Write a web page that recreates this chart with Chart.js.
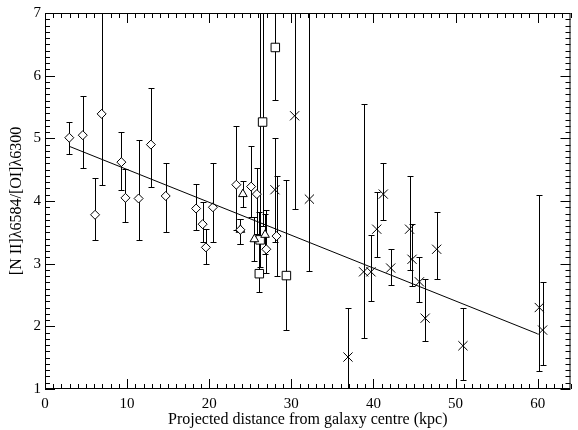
<!DOCTYPE html>
<html>
<head>
<meta charset="utf-8">
<script src="https://cdn.jsdelivr.net/npm/chart.js@4"></script>
<style>
  html, body { margin: 0; padding: 0; background: #fff; }
</style>
</head>
<body>
<canvas id="myChart" width="578" height="430"></canvas>
<script>
// data block
const diamondX  = [2.96, 4.6, 6.1, 6.9, 9.3, 9.8, 11.4, 12.9, 14.7, 18.4, 19.2, 19.6, 20.45, 23.3, 23.8, 25.1, 25.8, 26.95, 28.2];
const diamondY  = [5.01, 5.05, 3.78, 5.39, 4.62, 4.05, 4.04, 4.90, 4.08, 3.88, 3.63, 3.26, 3.90, 4.26, 3.54, 4.23, 4.11, 3.23, 3.44];
const diamondLo = [4.75, 4.52, 3.37, 4.25, 4.18, 3.66, 3.37, 4.23, 3.51, 3.54, 3.34, 3.00, 3.35, 3.54, 3.31, 3.75, 3.48, 2.85, 2.80];
const diamondHi = [5.26, 5.68, 4.37, 7.50, 5.10, 4.51, 4.98, 5.80, 4.61, 4.27, 3.98, 3.56, 4.60, 5.20, 3.71, 4.87, 4.52, 3.86, 4.40];

const crossX  = [28.0, 30.4, 32.2, 36.9, 38.8, 39.7, 40.4, 41.2, 42.1, 44.4, 44.7, 45.6, 46.3, 47.7, 50.9, 60.2, 60.6];
const crossY  = [4.18, 5.36, 4.03, 1.51, 2.87, 2.87, 3.55, 4.11, 2.93, 3.55, 3.07, 2.71, 2.13, 3.23, 1.69, 2.30, 1.94];
const crossLo = [3.35, 3.88, 2.88, 0.50, 1.82, 2.41, 3.11, 3.70, 2.66, 2.90, 2.64, 2.39, 1.76, 2.76, 1.14, 1.29, 1.38];
const crossHi = [5.00, 7.50, 7.50, 2.30, 5.55, 3.46, 4.15, 4.60, 3.23, 4.40, 3.64, 3.10, 2.75, 3.82, 2.30, 4.10, 2.70];

const squareX  = [28.05, 26.5, 26.2, 26.1, 29.4];
const squareY  = [6.45, 5.26, 3.38, 2.84, 2.81];
const squareLo = [5.61, 3.60, 2.95, 2.55, 1.94];
const squareHi = [7.50, 7.50, 7.50, 3.83, 4.34];

const triangleX  = [24.1, 23.8, 25.5, 26.8];
const triangleY  = [4.11, 3.54, 3.39, 3.46];
const triangleLo = [3.90, 3.31, 3.05, 3.15];
const triangleHi = [4.32, 3.71, 3.75, 3.80];

const fitX = [3, 60];
const fitY = [4.87, 1.88];

const xTicks = [0, 10, 20, 30, 40, 50, 60];
const yTicks = [1, 2, 3, 4, 5, 6, 7];

const pts = (xs, ys) => xs.map((v, i) => ({x: v, y: ys[i]}));
const family = "'Liberation Serif', 'DejaVu Serif', serif";
const tickFont = {family, size: 15};
const titleFont = {family, size: 16};

// error bars under the symbols
const errorBars = {
  id: 'errorBars',
  beforeDatasetsDraw(chart) {
    const {ctx, chartArea: a, scales: {x, y}} = chart;
    ctx.save();
    ctx.beginPath();
    ctx.rect(a.left, a.top, a.right - a.left, a.bottom - a.top);
    ctx.clip();
    ctx.strokeStyle = '#000';
    ctx.lineWidth = 1;
    chart.data.datasets.forEach(ds => {
      if (!ds.lo) return;
      ds.data.forEach((p, i) => {
        const px = Math.round(x.getPixelForValue(p.x)) + 0.5;
        const y1 = Math.round(y.getPixelForValue(ds.lo[i])) + 0.5;
        const y2 = Math.round(y.getPixelForValue(ds.hi[i])) + 0.5;
        ctx.beginPath();
        ctx.moveTo(px, y1); ctx.lineTo(px, y2);
        ctx.moveTo(px - 3, y1); ctx.lineTo(px + 3, y1);
        ctx.moveTo(px - 3, y2); ctx.lineTo(px + 3, y2);
        ctx.stroke();
      });
    });
    ctx.restore();
  }
};

// IDL style box with inward ticks on all sides
const frame = {
  id: 'frame',
  afterDraw(chart) {
    const {ctx, chartArea: a, scales: {x, y}} = chart;
    ctx.save();
    ctx.strokeStyle = '#000';
    ctx.lineWidth = 1;
    ctx.strokeRect(a.left + 0.5, a.top + 0.5, a.right - a.left - 1, a.bottom - a.top - 1);
    ctx.beginPath();
    for (let v = 0; v <= x.max; v += 1) {
      const px = Math.round(x.getPixelForValue(v)) + 0.5;
      const len = v % 10 === 0 ? 10 : 5;
      ctx.moveTo(px, a.bottom); ctx.lineTo(px, a.bottom - len);
      ctx.moveTo(px, a.top); ctx.lineTo(px, a.top + len);
    }
    for (let k = 10; k <= 70; k++) {
      const py = Math.round(y.getPixelForValue(k / 10)) + 0.5;
      const len = k % 10 === 0 ? 10 : 5;
      ctx.moveTo(a.left, py); ctx.lineTo(a.left + len, py);
      ctx.moveTo(a.right, py); ctx.lineTo(a.right - len, py);
    }
    ctx.stroke();
    ctx.restore();
  }
};

const symbol = (label, xs, ys, lo, hi, style, r) => ({
  label, data: pts(xs, ys), lo, hi,
  pointStyle: style, pointRadius: r, pointHoverRadius: r,
  borderColor: '#000', backgroundColor: style === 'crossRot' ? '#000' : '#fff',
  pointBorderWidth: 1, showLine: false
});

const config = {
  type: 'scatter',
  data: {
    datasets: [
      {type: 'line', label: 'fit', data: pts(fitX, fitY), borderColor: '#000', borderWidth: 1,
       pointRadius: 0, fill: false, tension: 0},
      symbol('diamonds', diamondX, diamondY, diamondLo, diamondHi, 'rectRot', 4.5),
      symbol('triangles', triangleX, triangleY, triangleLo, triangleHi, 'triangle', 5),
      symbol('squares', squareX, squareY, squareLo, squareHi, 'rect', 6),
      symbol('crosses', crossX, crossY, crossLo, crossHi, 'crossRot', 6.5)
    ]
  },
  options: {
    responsive: false,
    animation: false,
    layout: {padding: {top: 13, right: 7, left: 0, bottom: 0}},
    plugins: {legend: {display: false}, tooltip: {enabled: false}},
    scales: {
      x: {
        type: 'linear', min: 0, max: 64,
        afterBuildTicks: s => { s.ticks = xTicks.map(v => ({value: v})); },
        afterFit: s => { s.height = 41; },
        grid: {display: false, drawTicks: false},
        border: {display: false},
        ticks: {color: '#000', font: tickFont, padding: 6, maxRotation: 0},
        title: {display: true, text: 'Projected distance from galaxy centre (kpc)', color: '#000', font: titleFont,
                padding: {top: 0, bottom: 1}}
      },
      y: {
        type: 'linear', min: 1, max: 7,
        afterBuildTicks: s => { s.ticks = yTicks.map(v => ({value: v})); },
        afterFit: s => { s.width = 45; },
        grid: {display: false, drawTicks: false},
        border: {display: false},
        ticks: {color: '#000', font: tickFont, padding: 4},
        title: {display: true, text: '[N II]λ6584/[OI]λ6300', color: '#000', font: titleFont,
                padding: {top: 7, bottom: 0}}
      }
    }
  },
  plugins: [errorBars, frame]
};

const myChart = new Chart(document.getElementById('myChart'), config);
</script>
</body>
</html>
